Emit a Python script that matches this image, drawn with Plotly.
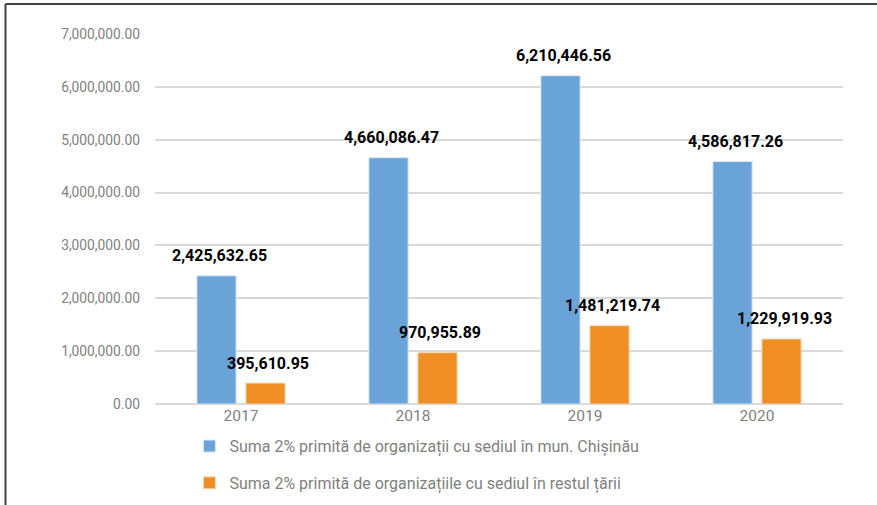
import plotly.graph_objects as go

years = ["2017", "2018", "2019", "2020"]
chisinau = [2425632.65, 4660086.47, 6210446.56, 4586817.26]
rest_of_country = [395610.95, 970955.89, 1481219.74, 1229919.93]
series_names = [
    "Suma 2% primită de organizații cu sediul în mun. Chișinău",
    "Suma 2% primită de organizațiile cu sediul în restul țării",
]
y_ticks = [0, 1000000, 2000000, 3000000, 4000000, 5000000, 6000000, 7000000]

BLUE = "#69a3d8"
ORANGE = "#ee8e25"
GREY = "#7f7f7f"

fig = go.Figure()
fig.add_trace(go.Bar(x=years, y=chisinau, name=series_names[0], legendgroup="a",
                     marker=dict(color=BLUE, line=dict(color="#dbe8f5", width=1))))
fig.add_trace(go.Bar(x=years, y=rest_of_country, name=series_names[1], legendgroup="b",
                     marker=dict(color=ORANGE, line=dict(color="#f8d9b5", width=1))))

# data labels ~20px above each bar, a touch right of the bar centre
# (annotations on a category axis take the category index)
for i, yr in enumerate(years):
    for vals, dx in ((chisinau, -22), (rest_of_country, 27)):
        fig.add_annotation(x=i, y=vals[i], text=f"<b>{vals[i]:,.2f}</b>", showarrow=False,
                           xshift=dx, yshift=20, yanchor="middle",
                           font=dict(family="Roboto", size=16, color="black"))

fig.update_layout(
    width=877, height=505,
    margin=dict(l=155, r=34, t=34, b=101, autoexpand=False),
    paper_bgcolor="white", plot_bgcolor="white",
    barmode="group", bargap=0.43, bargroupgap=0.2,
    font=dict(family="Roboto", color=GREY),
    showlegend=True,
    legend=dict(x=0.050, y=-0.068, xanchor="left", yanchor="top", orientation="v",
                traceorder="grouped", tracegroupgap=13,
                font=dict(family="Roboto", size=16, color=GREY)),
)
fig.update_yaxes(range=[0, 7000000], tickvals=y_ticks, tickformat=",.2f",
                 showgrid=True, gridcolor="#d9d9d9", gridwidth=1.5,
                 zeroline=True, zerolinecolor="#d9d9d9", zerolinewidth=1.5,
                 tickfont=dict(size=13.8, color=GREY), ticks="", ticklen=0,
                 ticklabelstandoff=14, fixedrange=True)
fig.update_xaxes(type="category", showgrid=False, tickfont=dict(size=15.5, color=GREY), ticks="")

# frame lines along the top and left edge of the picture
fig.add_shape(type="line", xref="paper", yref="paper", x0=-0.2173, x1=1.06, y0=1.081, y1=1.081,
              line=dict(color="#404040", width=2))
fig.add_shape(type="line", xref="paper", yref="paper", x0=-0.2173, x1=-0.2173, y0=1.081, y1=-0.3,
              line=dict(color="#404040", width=2))

# drop the browser's default 8px body margin so the figure sits at the page corner
fig.write_html("out.html", config={"displayModeBar": False},
               post_script="document.body.style.margin='0';")
